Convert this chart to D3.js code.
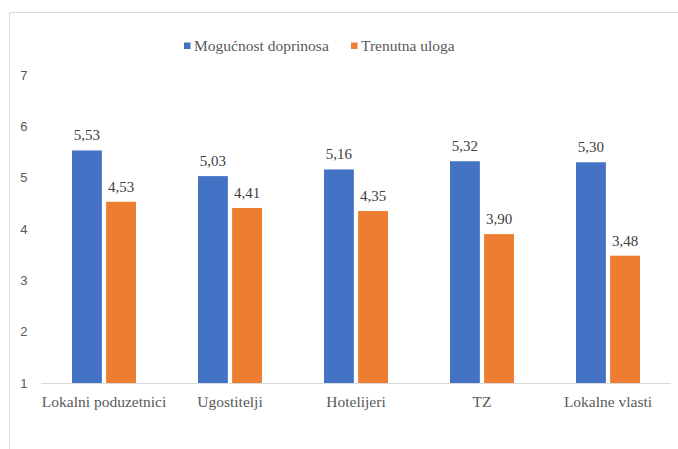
<!DOCTYPE html>
<html><head><meta charset="utf-8">
<script src="https://cdn.jsdelivr.net/npm/d3@7"></script>
<style>body{margin:0;background:#fff}svg{display:block}svg text{font-family:"Liberation Serif","Times New Roman",Times,serif}svg text.tick{font-family:"Liberation Sans",Arial,sans-serif}</style>
</head><body><svg id="c" width="678" height="449"></svg>
<script>
const categories = ["Lokalni poduzetnici","Ugostitelji","Hotelijeri","TZ","Lokalne vlasti"];
const seriesNames = ["Mogućnost doprinosa","Trenutna uloga"];
const mogucnost = [5.53,5.03,5.16,5.32,5.30];
const trenutna = [4.53,4.41,4.35,3.90,3.48];
const yTicks = [1,2,3,4,5,6,7];
const colors = ["#4472C4","#ED7D31"];

const svg = d3.select("#c");
// frame
svg.append("line").attr("x1",9.5).attr("x2",678).attr("y1",12.5).attr("y2",12.5).attr("stroke","#d9d9d9");
svg.append("line").attr("x1",9.5).attr("x2",9.5).attr("y1",12.5).attr("y2",449).attr("stroke","#d9d9d9");

const x0 = d3.scaleBand().domain(categories).range([41,671]);
const x1 = d3.scaleBand().domain(seriesNames).range([0,64]).paddingInner(0.125);
const y = d3.scaleLinear().domain([1,7]).range([383,75]);

// y tick labels
svg.append("g").selectAll("text").data(yTicks).join("text").attr("class","tick")
  .attr("x",27.5).attr("y",d=>y(d)).attr("dy","0.36em").attr("text-anchor","end")
  .attr("font-size",13).attr("fill","#595959").text(d=>d);

const data = categories.map((c,i)=>({c, vals:[mogucnost[i],trenutna[i]]}));
const g = svg.append("g").selectAll("g").data(data).join("g")
  .attr("transform",d=>`translate(${x0(d.c)+x0.bandwidth()/2-32},0)`);
g.selectAll("rect").data(d=>d.vals.map((v,j)=>({v,s:seriesNames[j],j}))).join("rect")
  .attr("x",d=>x1(d.s)).attr("width",x1.bandwidth())
  .attr("y",d=>y(d.v)).attr("height",d=>y(1)-y(d.v)).attr("fill",d=>colors[d.j]);
g.selectAll("text").data(d=>d.vals.map((v,j)=>({v,s:seriesNames[j],j}))).join("text")
  .attr("x",d=>x1(d.s)+x1.bandwidth()/2).attr("y",d=>y(d.v)-10).attr("text-anchor","middle")
  .attr("font-size",15).attr("fill","#404040")
  .text(d=>d.v.toFixed(2).replace(".",","));

// baseline
svg.append("line").attr("x1",41).attr("x2",671).attr("y1",383.5).attr("y2",383.5).attr("stroke","#d9d9d9");

// category labels
svg.append("g").selectAll("text").data(categories).join("text")
  .attr("x",d=>x0(d)+x0.bandwidth()/2).attr("y",407).attr("text-anchor","middle")
  .attr("font-size",15.5).attr("fill","#595959").text(d=>d);

// legend
const legX = [184,351];
const lg = svg.append("g").selectAll("g").data(seriesNames).join("g")
  .attr("transform",(d,i)=>`translate(${legX[i]},0)`);
lg.append("rect").attr("x",0).attr("y",42.5).attr("width",6.5).attr("height",6.5).attr("fill",(d,i)=>colors[i]);
lg.append("text").attr("x",10).attr("y",51).attr("font-size",15.5)
  .attr("fill","#595959").text(d=>d);
</script></body></html>
